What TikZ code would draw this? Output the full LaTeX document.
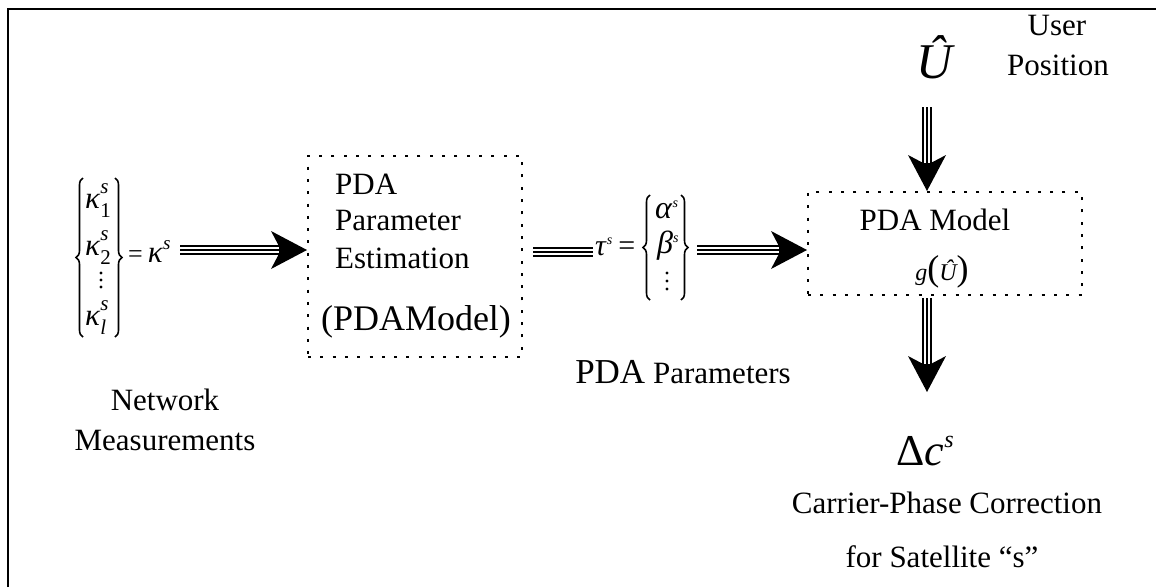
\documentclass[tikz,border=0pt]{standalone}
\usepackage{fontspec}
\setmainfont{Liberation Serif}
\usetikzlibrary{arrows.meta,decorations.pathreplacing}
% font size in pt (1 unit = 1pt)
\newcommand\fsz[1]{\fontsize{#1}{#1}\selectfont}
% kappa entry with stacked superscript s and a subscript
\newcommand\kent[1]{\textit{κ}{\fsz{21}\rlap{\raisebox{15pt}{\itshape s}}\raisebox{-9pt}{#1}}}
% small italic superscript s: raise, size
\newcommand\ssup[2]{\raisebox{#1}{\fsz{#2}\itshape s}}

\begin{document}
\begin{tikzpicture}[x=1pt,y=-1pt,
  lbl/.style={inner sep=0pt, anchor=base, font=\fsz{31}},
  lblw/.style={lbl, anchor=base west},
  dotbox/.style={draw, line width=2pt, dash pattern=on 3pt off 9.3pt, inner sep=0pt},
  shaft/.style={line width=10.5pt,
    postaction={draw=white, line width=5.5pt},
    postaction={draw=black, line width=2.6pt}},
  tri/.style={line width=10.5pt,
    -{Stealth[length=36pt, width=38pt, inset=10pt, line width=0pt]},
    postaction={draw=white, line width=5.5pt, -, shorten >=28pt},
    postaction={draw=black, line width=2.6pt, -, shorten >=28pt}},
  vbrace/.style={decorate, decoration={brace, amplitude=7pt}, line width=1.6pt}
]
\useasboundingbox (0,0) rectangle (1156,587);

% frame
\draw[line width=2.5pt] (8,587) -- (8,9) -- (1156,9);

% network measurement vector
\node[lblw] (k1) at (85,208) {\kent{1}};
\node[lblw] (k2) at (85,255) {\kent{2}};
\node[lblw] (kl) at (85,325) {\kent{\itshape l}};
\fill (101,273) circle (1.6) (101,280) circle (1.6) (101,287) circle (1.6);
\draw[vbrace] (83,337) -- (83,178);
\draw[vbrace] (115,178) -- (115,337);
\node[lblw] (keq) at (128,262) {{\fsz{26}=}\kern5pt\textit{κ}\ssup{13pt}{19}};
\node[lbl] (nw) at (165,410) {Network};
\node[lbl] (ms) at (165,450) {Measurements};

% parameter estimation block
\node[dotbox, minimum width=214pt, minimum height=201pt] (est) at (415,256.5) {};
\node[lblw] (t1) at (335,194) {PDA};
\node[lblw] (t2) at (335,230) {Parameter};
\node[lblw] (t3) at (335,268) {Estimation};
\node[lbl, font=\fsz{36}] (t4) at (416,330) {(PDAModel)};

\coordinate (a1) at (180,250);
\draw[tri] (a1) -- (a1 -| est.west);

% parameter vector
\coordinate (a2s) at (533,252);
\coordinate (a2e) at (593,252);
\draw[shaft] (a2s) -- (a2e);
\node[lblw, font=\fsz{30}] (tau) at (595,255) {\textit{τ}\ssup{11pt}{14}\kern6pt=};
\draw[vbrace] (650,300) -- (650,195);
\draw[vbrace] (681,195) -- (681,300);
\node[lblw, font=\fsz{32}] (al) at (655,218) {\textit{α}\ssup{11pt}{14}};
\node[lblw, font=\fsz{32}] (be) at (657,253) {\textit{β}\ssup{11pt}{14}};
\fill (667,273) circle (1.6) (667,281) circle (1.6) (667,289) circle (1.6);
\node[lbl] (pp) at (683,383) {{\fsz{35}PDA} Parameters};

% model block
\node[dotbox, minimum width=274pt, minimum height=103pt] (model) at (945,243.5) {};
\node[lbl] (pm) at (935,230) {PDA Model};
\node[lbl] (g) at (942,280) {{\fsz{24}\itshape g}{\fsz{36}(}{\fsz{24}\itshape Û}{\fsz{36})}};
\coordinate (a3) at (697,250);
\draw[tri] (a3) -- (a3 -| model.west);

% user position input
\node[lbl, font=\fsz{50}\itshape] (uhat) at (935,78) {Û};
\node[lbl] (user) at (1057,35) {User};
\node[lbl] (pos) at (1058,75) {Position};
\coordinate (a4) at (927,107);
\draw[tri] (a4) -- (a4 |- model.north);

% correction output
\coordinate (a5) at (927,298);
\coordinate (a5e) at (927,392);
\draw[tri] (a5) -- (a5e);
\node[lbl] (dc) at (925,465) {{\fsz{44}Δ\itshape c}\ssup{18pt}{24}};
\node[lbl] (cpc) at (947,513) {Carrier-Phase Correction};
\node[lbl] (sat) at (942,567) {for Satellite “s”};
\end{tikzpicture}
\end{document}
